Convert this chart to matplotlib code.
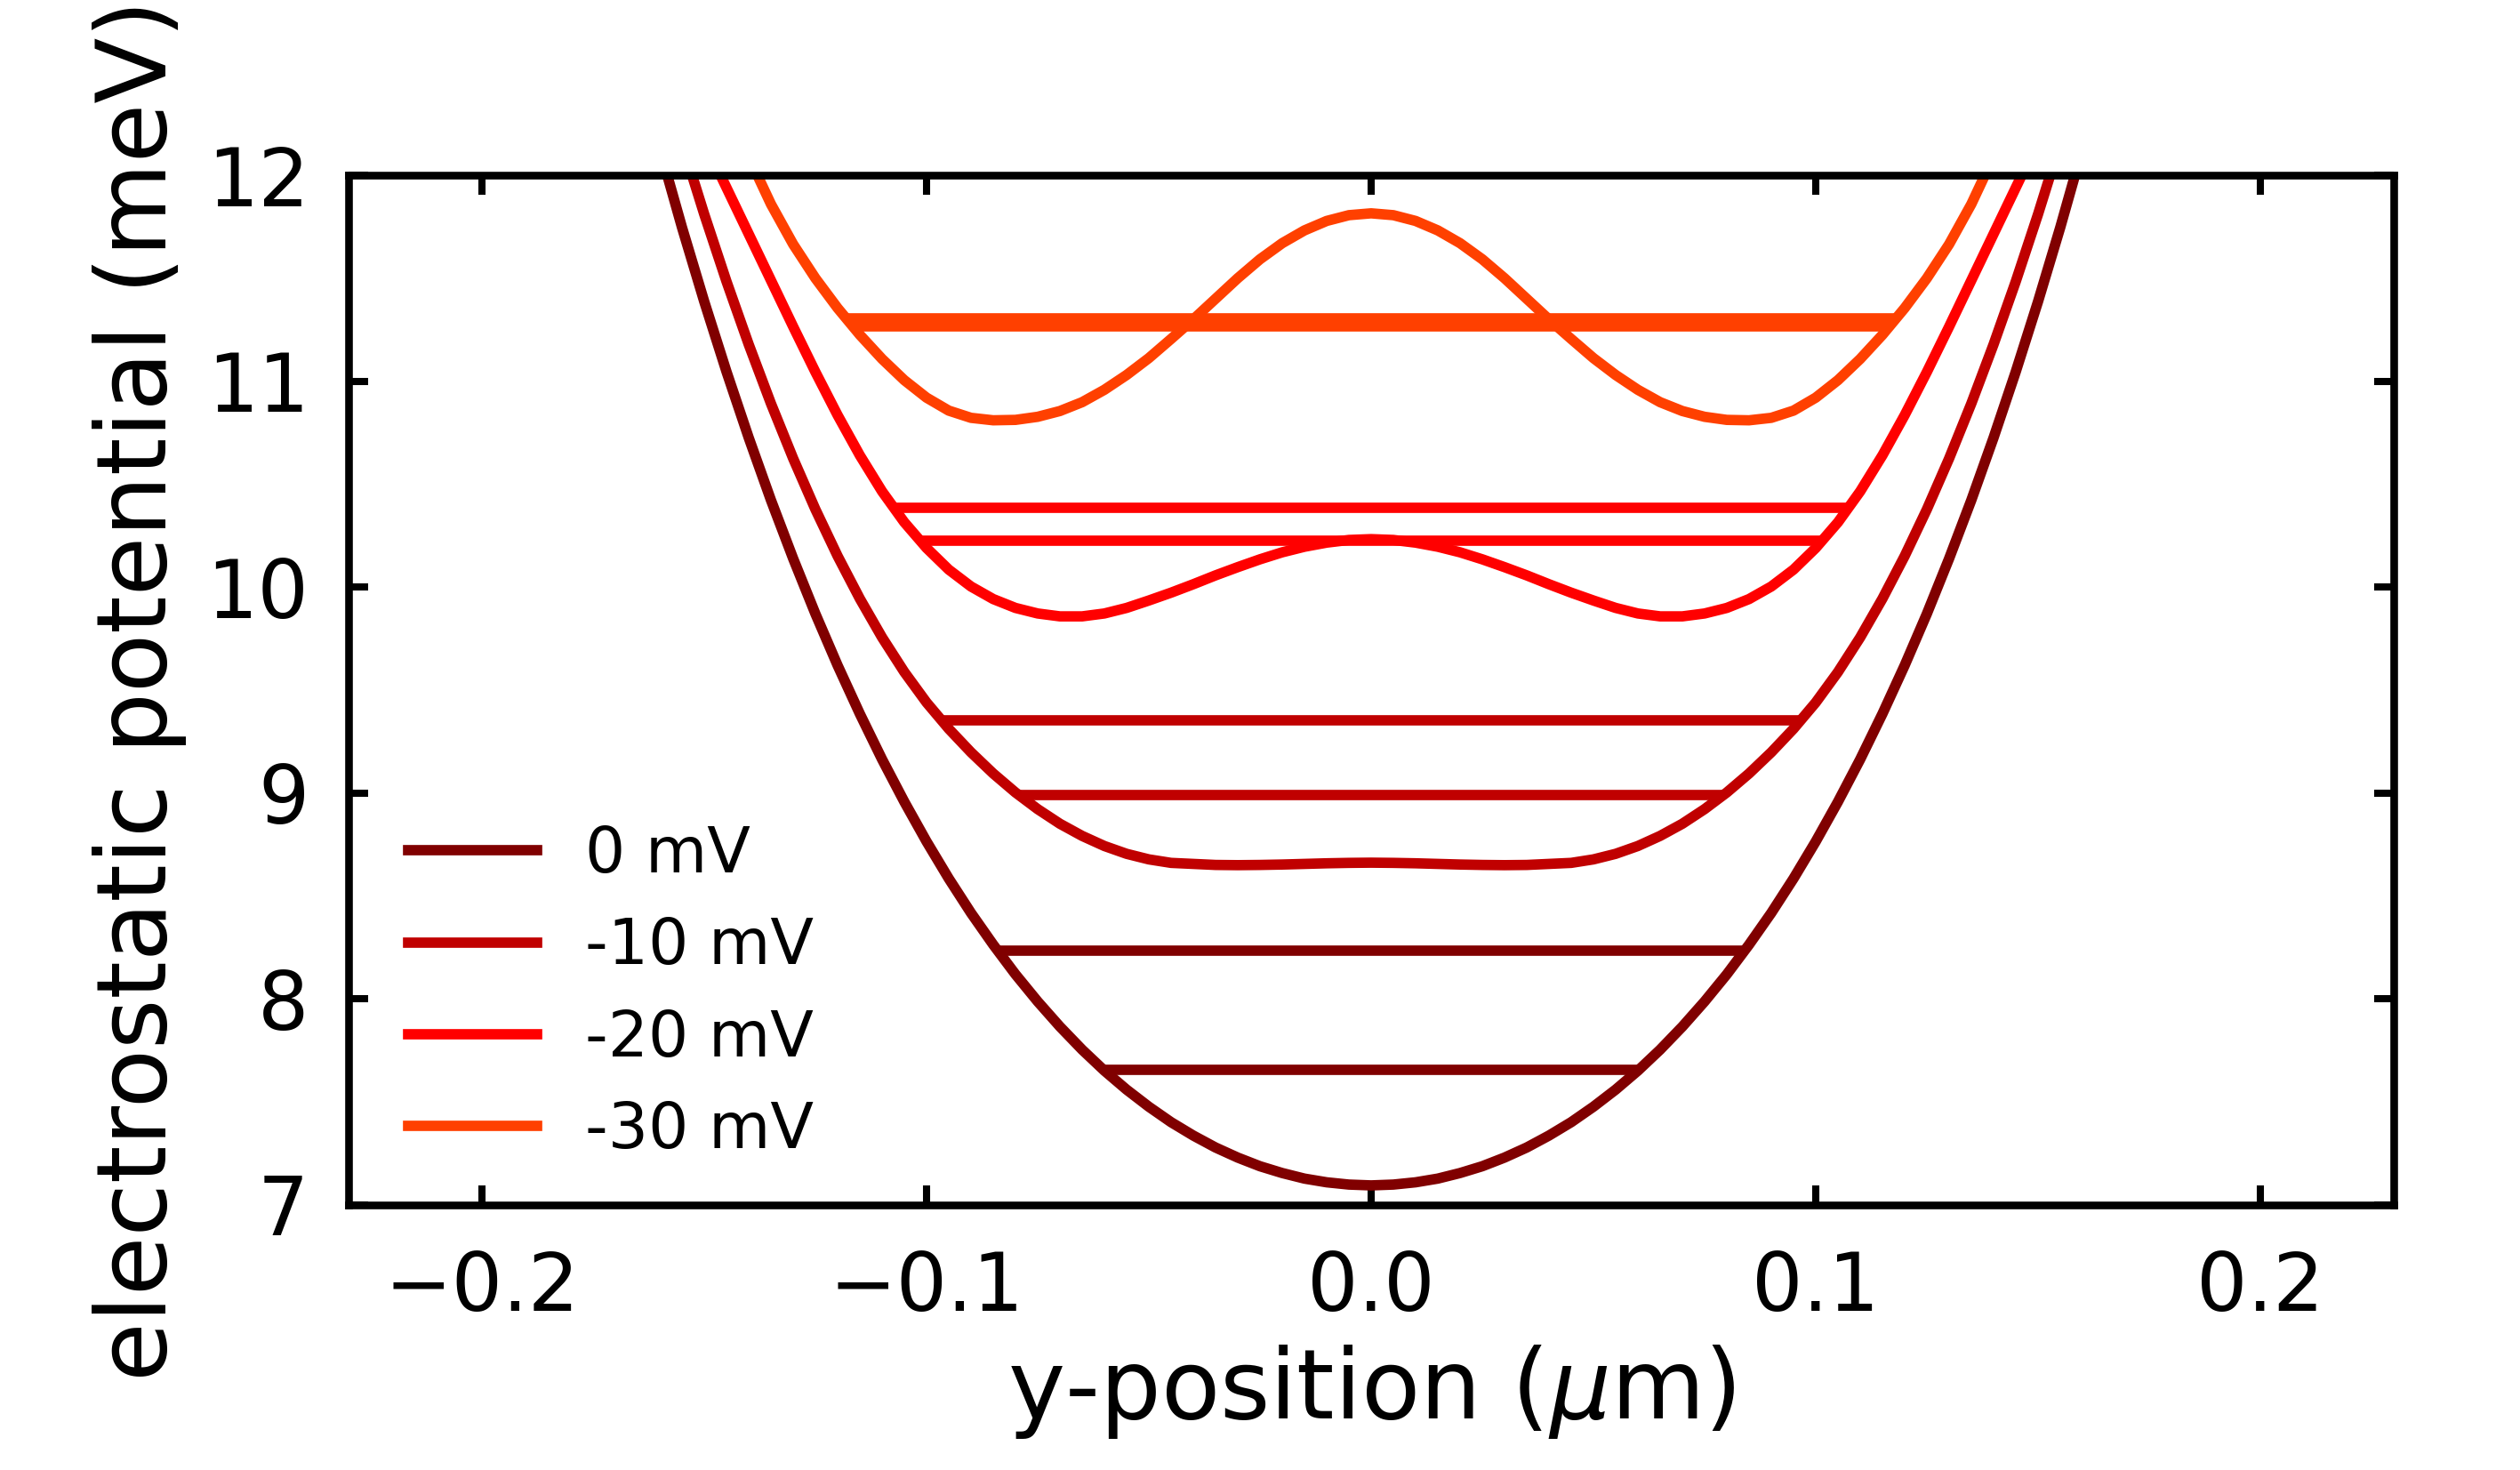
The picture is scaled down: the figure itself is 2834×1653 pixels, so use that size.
import matplotlib
matplotlib.use("Agg")
import matplotlib.pyplot as plt

# ------------------------------------------------------------
# Data
# ------------------------------------------------------------
gate_labels = ["0 mV", "-10 mV", "-20 mV", "-30 mV"]
gate_colors = ["#800000", "#c00000", "#ff0000", "#ff4000"]

# y-position samples (um)
y_pos = [-0.160, -0.155, -0.150, -0.145, -0.140, -0.135, -0.130, -0.125,
         -0.120, -0.115, -0.110, -0.105, -0.100, -0.095, -0.090, -0.085,
         -0.080, -0.075, -0.070, -0.065, -0.060, -0.055, -0.050, -0.045,
         -0.040, -0.035, -0.030, -0.025, -0.020, -0.015, -0.010, -0.005,
         0.000,
         0.005, 0.010, 0.015, 0.020, 0.025, 0.030, 0.035, 0.040,
         0.045, 0.050, 0.055, 0.060, 0.065, 0.070, 0.075, 0.080,
         0.085, 0.090, 0.095, 0.100, 0.105, 0.110, 0.115, 0.120,
         0.125, 0.130, 0.135, 0.140, 0.145, 0.150, 0.155, 0.160]

# electrostatic potential (meV) for each gate voltage
pot_0mV = [12.129, 11.747, 11.387, 11.047, 10.726, 10.423, 10.139, 9.871,
           9.620, 9.385, 9.164, 8.958, 8.765, 8.585, 8.418, 8.264,
           8.120, 7.988, 7.866, 7.754, 7.652, 7.560, 7.477, 7.402,
           7.337, 7.279, 7.230, 7.188, 7.155, 7.128, 7.110, 7.099,
           7.095,
           7.099, 7.110, 7.128, 7.155, 7.188, 7.230, 7.279, 7.337,
           7.402, 7.477, 7.560, 7.652, 7.754, 7.866, 7.988, 8.120,
           8.264, 8.418, 8.585, 8.765, 8.958, 9.164, 9.385, 9.620,
           9.871, 10.139, 10.423, 10.726, 11.047, 11.387, 11.747, 12.129]

pot_10mV = [12.520, 12.157, 11.811, 11.485, 11.179, 10.892, 10.625, 10.378,
            10.151, 9.944, 9.756, 9.588, 9.440, 9.312, 9.198, 9.095,
            9.003, 8.922, 8.851, 8.792, 8.743, 8.705, 8.678, 8.661,
            8.656, 8.651, 8.650, 8.651, 8.653, 8.656, 8.659, 8.661,
            8.662,
            8.661, 8.659, 8.656, 8.653, 8.651, 8.650, 8.651, 8.656,
            8.661, 8.678, 8.705, 8.743, 8.792, 8.851, 8.922, 9.003,
            9.095, 9.198, 9.312, 9.440, 9.588, 9.756, 9.944, 10.151,
            10.378, 10.625, 10.892, 11.179, 11.485, 11.811, 12.157, 12.520]

pot_20mV = [12.620, 12.390, 12.165, 11.940, 11.715, 11.490, 11.265, 11.045,
            10.835, 10.640, 10.465, 10.315, 10.190, 10.085, 10.003, 9.942,
            9.899, 9.872, 9.858, 9.858, 9.872, 9.899, 9.935, 9.973,
            10.014, 10.057, 10.097, 10.135, 10.169, 10.196, 10.216, 10.229,
            10.233,
            10.229, 10.216, 10.196, 10.169, 10.135, 10.097, 10.057, 10.014,
            9.973, 9.935, 9.899, 9.872, 9.858, 9.858, 9.872, 9.899,
            9.942, 10.003, 10.085, 10.190, 10.315, 10.465, 10.640, 10.835,
            11.045, 11.265, 11.490, 11.715, 11.940, 12.165, 12.390, 12.620]

pot_30mV = [13.550, 13.100, 12.700, 12.370, 12.090, 11.860, 11.665, 11.500,
            11.355, 11.225, 11.108, 11.005, 10.920, 10.857, 10.822, 10.810,
            10.812, 10.827, 10.855, 10.898, 10.958, 11.030, 11.112, 11.205,
            11.300, 11.400, 11.500, 11.592, 11.670, 11.732, 11.778, 11.806,
            11.815,
            11.806, 11.778, 11.732, 11.670, 11.592, 11.500, 11.400, 11.300,
            11.205, 11.112, 11.030, 10.958, 10.898, 10.855, 10.827, 10.812,
            10.810, 10.822, 10.857, 10.920, 11.005, 11.108, 11.225, 11.355,
            11.500, 11.665, 11.860, 12.090, 12.370, 12.700, 13.100, 13.550]

potentials = [pot_0mV, pot_10mV, pot_20mV, pot_30mV]

# bound-state energies (meV) and half-width of each level line (um)
level_energies = [[7.655, 8.235], [8.989, 9.353], [10.226, 10.385], [11.266, 11.305]]
level_halfwidths = [[0.0601, 0.0840], [0.0791, 0.0966], [0.1014, 0.1073], [0.1166, 0.1180]]

x_ticks = [-0.2, -0.1, 0.0, 0.1, 0.2]
y_ticks = [7, 8, 9, 10, 11, 12]

# ------------------------------------------------------------
# Figure
# ------------------------------------------------------------
fig = plt.figure(figsize=(14.17, 8.265), dpi=200)
ax = fig.add_axes([0.1383, 0.1803, 0.8116, 0.7005])

lw = 4.2
handles = []
for pot, energies, widths, color, label in zip(potentials, level_energies,
                                               level_halfwidths, gate_colors, gate_labels):
    line, = ax.plot(y_pos, pot, color=color, lw=lw, label=label,
                    solid_joinstyle="round")
    handles.append(line)
    for e, w in zip(energies, widths):
        ax.plot([-w, w], [e, e], color=color, lw=lw, solid_capstyle="butt")

ax.set_xlim(-0.23, 0.23)
ax.set_ylim(7, 12)
ax.set_xticks(x_ticks)
ax.set_yticks(y_ticks)

ax.tick_params(direction="in", top=True, right=True, length=8, width=2.9,
               labelsize=32.5)
ax.tick_params(axis="x", pad=18)
ax.tick_params(axis="y", pad=16)
for sp in ax.spines.values():
    sp.set_linewidth(3.1)

ax.set_xlabel(r"y-position ($\mu$m)", fontsize=39, labelpad=6)
ax.set_ylabel("electrostatic potential (meV)", fontsize=39, labelpad=8)

ax.legend(handles=handles, loc="lower left", bbox_to_anchor=(0.017, 0.018),
          borderaxespad=0, frameon=False, fontsize=25.6, handlelength=2.03,
          handletextpad=0.76, labelspacing=0.48)

fig.savefig("out.png", dpi=200)
